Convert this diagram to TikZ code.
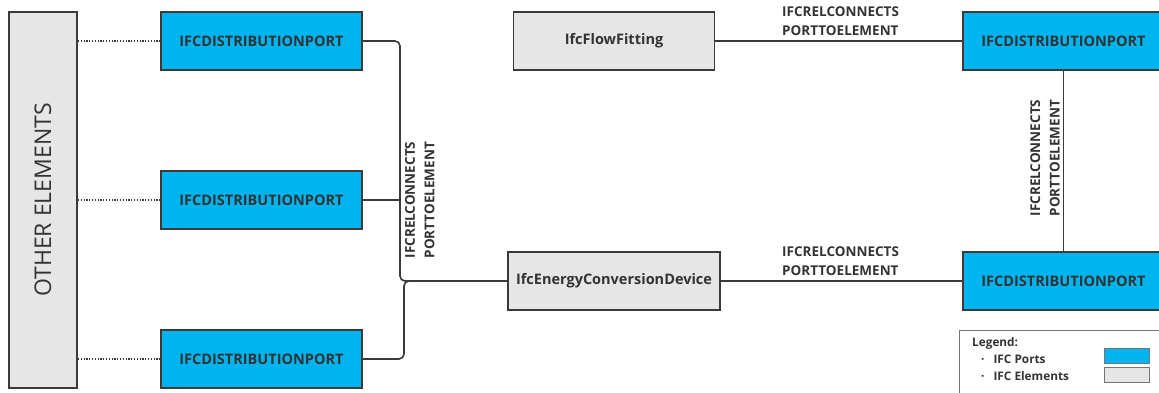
\documentclass[tikz,border=0pt]{standalone}
\usepackage{fontspec}
\setmainfont{Open Sans}
\definecolor{portblue}{HTML}{00B4F0}
\definecolor{elemgray}{HTML}{E6E6E6}
\definecolor{edge}{HTML}{3A3A3A}
\definecolor{ink}{HTML}{333333}
\tikzset{
  box/.style={draw=edge, line width=1.8pt, minimum width=201pt, minimum height=58pt,
    inner sep=0pt, text=ink, font=\bfseries\fontsize{14.5}{17}\selectfont},
  port/.style={box, fill=portblue},
  elem/.style={box, fill=elemgray},
  link/.style={draw=edge, line width=1.6pt},
  dots/.style={draw=edge, line width=1.4pt, dash pattern=on 1.2pt off 1.6pt},
  rellabel/.style={text=ink, font=\bfseries\fontsize{13.5}{19.5}\selectfont, align=left, inner sep=0pt},
  legtext/.style={anchor=west, text=ink, font=\bfseries\fontsize{11.8}{13}\selectfont, inner sep=0pt},
}
\begin{document}
\begin{tikzpicture}[x=1pt, y=-1pt]
\useasboundingbox (0,0) rectangle (1159,392);
\clip (0,0) rectangle (1159,392);

% column of other elements
\node[elem, minimum width=68pt, minimum height=376pt, font=\fontsize{23}{26}\selectfont]
  (other) at (43,200) {\rotatebox{90}{OTHER ELEMENTS}};

% left ports
\node[port] (p1) at (261.5,41) {IFCDISTRIBUTIONPORT};
\node[port] (p2) at (261.5,200) {IFCDISTRIBUTIONPORT};
\node[port] (p3) at (261.5,359) {IFCDISTRIBUTIONPORT};

% elements
\node[elem] (flow) at (614,41) {IfcFlowFitting};
\node[elem, minimum width=212pt] (ecd) at (614,281) {IfcEnergyConversionDevice};

% right ports
\node[port] (q1) at (1063.5,41) {IFCDISTRIBUTIONPORT};
\node[port] (q2) at (1063.5,281) {IFCDISTRIBUTIONPORT};

% dotted links to other elements
\draw[dots] (other.east |- p1) -- (p1.west);
\draw[dots] (other.east |- p2) -- (p2.west);
\draw[dots] (other.east |- p3) -- (p3.west);

% bracket joining the three left ports to the device
\coordinate (bt) at (400,281);
\coordinate (bb) at (404,281);
\draw[link, rounded corners=5pt] (p1.east) -| (bt) -- (ecd.west);
\draw[link, rounded corners=5pt] (p3.east) -| (bb) -- (ecd.west);
\draw[link] (p2.east) -- (p2.east -| bt);

\node[rellabel, rotate=90, anchor=north] at (405,200) {IFCRELCONNECTS\\PORTTOELEMENT};

% right side links
\draw[link] (flow.east) -- (q1.west);
\draw[link] (ecd.east) -- (q2.west);
\draw[link] (q1.south) -- (q2.north);

\node[rellabel, anchor=south west] at (782,36) {IFCRELCONNECTS\\PORTTOELEMENT};
\node[rellabel, anchor=south west] at (782,276) {IFCRELCONNECTS\\PORTTOELEMENT};
\node[rellabel, rotate=90, anchor=south] at (1060,158) {IFCRELCONNECTS\\PORTTOELEMENT};

% legend
\draw[draw=edge!70, line width=1pt, fill=white] (959,330) rectangle (1170,400);
\node[legtext] (lg) at (972,343) {Legend:};
\node[legtext] (l1) at (981,359) {\textperiodcentered\hspace{9pt}IFC Ports};
\node[legtext] (l2) at (981,376) {\textperiodcentered\hspace{9pt}IFC Elements};
\draw[draw=edge!70, line width=1pt, fill=portblue] (1104,348) rectangle (1149,363);
\draw[draw=edge!70, line width=1pt, fill=elemgray] (1104,367) rectangle (1149,382);
\end{tikzpicture}
\end{document}
